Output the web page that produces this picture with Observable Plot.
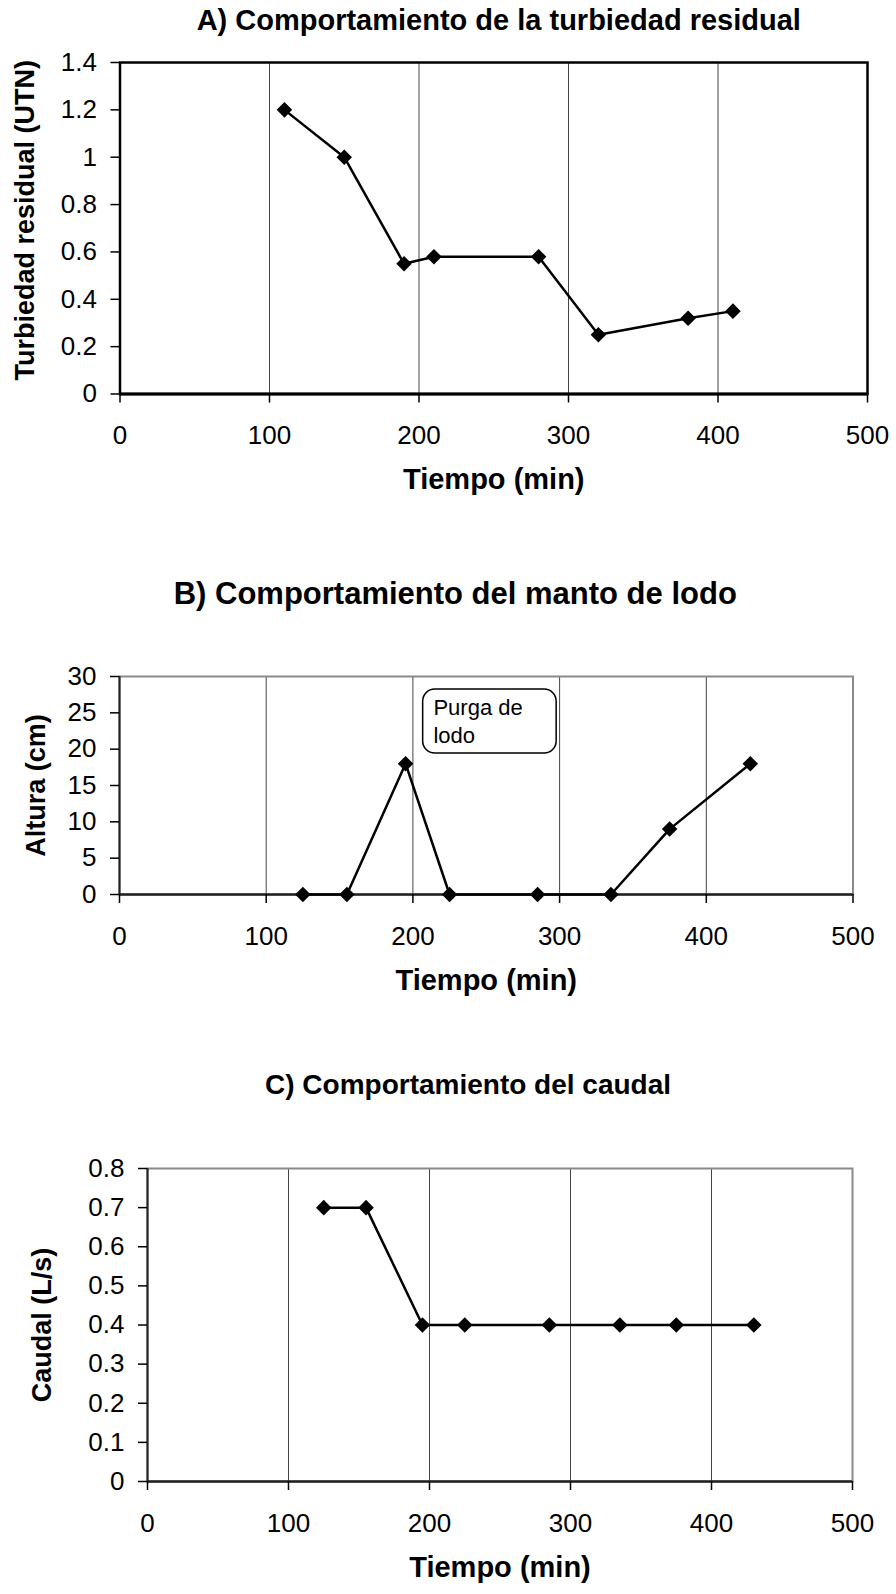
<!DOCTYPE html>
<html>
<head>
<meta charset="utf-8">
<script src="https://cdn.jsdelivr.net/npm/d3@7"></script>
<script src="https://cdn.jsdelivr.net/npm/@observablehq/plot@0.6"></script>
<style>
  html, body { margin: 0; padding: 0; background: #fff; }
  #root { position: relative; width: 896px; height: 1594px; overflow: hidden; }
  .chart { position: absolute; left: 0; }
  svg { display: block; }
</style>
</head>
<body>
<div id="root"></div>
<script>
// ---- Data ----
const xTicks = [0, 100, 200, 300, 400, 500];
const gridTicks = [100, 200, 300, 400];

// A) Turbiedad residual
const tiempoA = [110, 150, 190, 210, 280, 320, 380, 410];
const turbiedad = [1.2, 1.0, 0.55, 0.58, 0.58, 0.25, 0.32, 0.35];
const yTicksA = [0, 0.2, 0.4, 0.6, 0.8, 1, 1.2, 1.4];

// B) Manto de lodo
const tiempoB = [125, 155, 195, 225, 285, 335, 375, 430];
const altura = [0, 0, 18, 0, 0, 0, 9, 18];
const yTicksB = [0, 5, 10, 15, 20, 25, 30];
const notaB = ["Purga de\nlodo"];

// C) Caudal
const tiempoC = [125, 155, 195, 225, 285, 335, 375, 430];
const caudal = [0.7, 0.7, 0.4, 0.4, 0.4, 0.4, 0.4, 0.4];
const yTicksC = [0, 0.1, 0.2, 0.3, 0.4, 0.5, 0.6, 0.7, 0.8];

const titles = [
  "A) Comportamiento de la turbiedad residual",
  "B) Comportamiento del manto de lodo",
  "C) Comportamiento del caudal"
];
const xLabel = "Tiempo (min)";
const yLabels = ["Turbiedad residual (UTN)", "Altura (cm)", "Caudal (L/s)"];

const FONT = "'Liberation Sans', Arial, Helvetica, sans-serif";
const fmt = d => String(d);

function makeChart(cfg) {
  const rows = cfg.xs.map((x, i) => ({x, y: cfg.ys[i]}));
  const marks = [
    Plot.ruleX(gridTicks, {stroke: "#444", strokeWidth: 1}),
    Plot.frame({stroke: cfg.frameColor, strokeWidth: cfg.frameWidth}),
    Plot.ruleX([0], {stroke: cfg.axisColor, strokeWidth: 2}),
    Plot.ruleY([0], {stroke: cfg.axisColor, strokeWidth: cfg.bottomWidth}),
    ...(cfg.extra || []),
    Plot.line(rows, {x: "x", y: "y", stroke: "black", strokeWidth: 2.5}),
    Plot.dot(rows, {x: "x", y: "y", symbol: "diamond2", r: 7, fill: "black", stroke: "none"}),
    Plot.axisX(xTicks, {tickSize: 9, tickPadding: 23, tickFormat: fmt, label: null, stroke: "black", strokeWidth: 1.5, fill: "black"}),
    Plot.axisY(cfg.yTicks, {tickSize: 9, tickPadding: 14, tickFormat: fmt, label: null, stroke: "black", strokeWidth: 1.5, fill: "black"}),
    Plot.text([cfg.title], {text: d => d, frameAnchor: "top", textAnchor: "middle", dx: cfg.titleDx, dy: cfg.titleDy, fontSize: cfg.titleSize, fontWeight: "bold", fill: "black", lineAnchor: "middle"}),
    Plot.text([xLabel], {text: d => d, frameAnchor: "bottom", textAnchor: "middle", dy: 86, fontSize: 29, fontWeight: "bold", fill: "black", lineAnchor: "middle"}),
    Plot.text([cfg.yLabel], {text: d => d, frameAnchor: "left", textAnchor: "middle", dx: cfg.yLabelDx, dy: cfg.yLabelDy || 0, rotate: -90, fontSize: 27, fontWeight: "bold", fill: "black", lineAnchor: "middle"})
  ];
  const svg = Plot.plot({
    width: 896,
    height: cfg.height,
    marginTop: cfg.mt,
    marginBottom: cfg.mb,
    marginLeft: cfg.ml,
    marginRight: cfg.mr,
    style: {fontFamily: FONT, fontSize: "26px", color: "black", background: "white", overflow: "visible"},
    x: {domain: [0, 500]},
    y: {domain: cfg.yDomain},
    marks
  });
  const wrap = document.createElement("div");
  wrap.className = "chart";
  wrap.style.top = cfg.top + "px";
  wrap.appendChild(svg);
  document.getElementById("root").appendChild(wrap);
}

makeChart({
  top: 0, height: 530, mt: 62, mb: 136.5, ml: 119.5, mr: 29,
  xs: tiempoA, ys: turbiedad, yTicks: yTicksA, yDomain: [0, 1.4],
  title: titles[0], titleDx: 5, titleDy: -42, titleSize: 29,
  yLabel: yLabels[0], yLabelDx: -95, yLabelDy: -8,
  frameColor: "black", frameWidth: 2.5, axisColor: "black", bottomWidth: 3
});

makeChart({
  top: 530, height: 510, mt: 146, mb: 146, ml: 119, mr: 43.5,
  xs: tiempoB, ys: altura, yTicks: yTicksB, yDomain: [0, 30],
  title: titles[1], titleDx: -31, titleDy: -82, titleSize: 31,
  yLabel: yLabels[1], yLabelDx: -83,
  frameColor: "#8a8a8a", frameWidth: 2, axisColor: "#222", bottomWidth: 2.5,
  extra: [
    Plot.rect([{x1: 207, x2: 298, y1: 19.4, y2: 28.2}], {x1: "x1", x2: "x2", y1: "y1", y2: "y2", rx: 12, fill: "white", stroke: "black", strokeWidth: 1.5}),
    Plot.text(notaB, {text: d => d, x: () => 214, y: () => 27.4, textAnchor: "start", lineAnchor: "top", fontSize: 22, lineHeight: 1.27, fill: "black"})
  ]
});

makeChart({
  top: 1040, height: 554, mt: 128, mb: 113, ml: 147, mr: 44,
  xs: tiempoC, ys: caudal, yTicks: yTicksC, yDomain: [0, 0.8],
  title: titles[2], titleDx: -32, titleDy: -83, titleSize: 28,
  yLabel: yLabels[2], yLabelDx: -105,
  frameColor: "#8a8a8a", frameWidth: 2, axisColor: "#222", bottomWidth: 2.5
});
</script>
</body>
</html>
